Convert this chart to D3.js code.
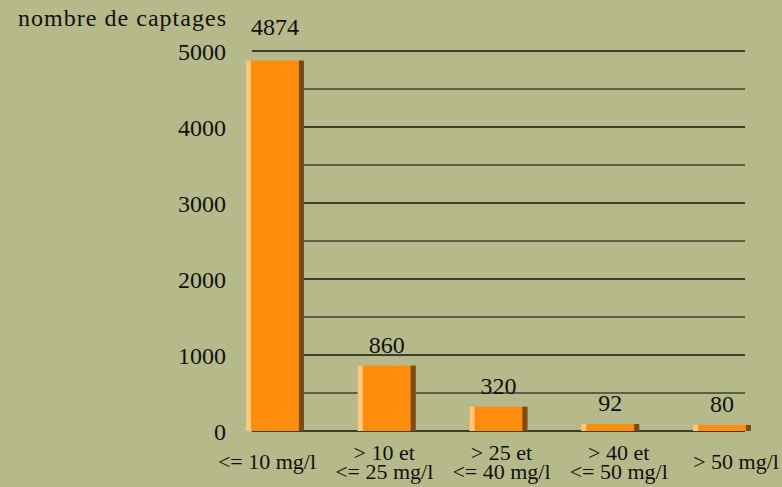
<!DOCTYPE html>
<html><head><meta charset="utf-8">
<script src="https://cdn.jsdelivr.net/npm/d3@7"></script>
<style>
html,body{margin:0;padding:0;background:#b6b98a;}
svg{display:block;}
</style></head>
<body>
<svg id="chart" width="782" height="487"></svg>
<script>
const categories = [["<= 10 mg/l"], ["> 10 et", "<= 25 mg/l"], ["> 25 et", "<= 40 mg/l"], ["> 40 et", "<= 50 mg/l"], ["> 50 mg/l"]];
const values = [4874, 860, 320, 92, 80];
const yTicks = [0, 1000, 2000, 3000, 4000, 5000];
const gridValues = [500, 1000, 1500, 2000, 2500, 3000, 3500, 4000, 4500, 5000];
const yTitle = "nombre de captages";

const FONT = "'Liberation Serif', 'DejaVu Serif', serif";
const svg = d3.select("#chart");
const keys = categories.map((c, i) => i);
const x = d3.scaleBand().domain(keys).range([246, 751]).paddingInner(0.481).paddingOuter(0);
const xLab = d3.scalePoint().domain(keys).range([267, 736]);
const y = d3.scaleLinear().domain([0, 5000]).range([431, 51]);

// gridlines
svg.append("g").selectAll("line").data(gridValues).join("line")
  .attr("x1", 252).attr("x2", 745)
  .attr("y1", d => y(d)).attr("y2", d => y(d))
  .attr("stroke", d => d % 1000 === 0 ? "#15150c" : "#5c5e48")
  .attr("stroke-width", d => d % 1000 === 0 ? 1.3 : 2);
svg.append("line").attr("x1", 252).attr("x2", 745).attr("y1", y(0)).attr("y2", y(0))
  .attr("stroke", "#15150c").attr("stroke-width", 1.3);

// y axis labels
const yAxis = d3.axisLeft(y).tickValues(yTicks).tickSize(0).tickPadding(0).tickFormat(d3.format("d"));
const ga = svg.append("g").attr("transform", "translate(226,0)").call(yAxis);
ga.attr("font-family", null).attr("font-size", null);
ga.select(".domain").remove();
ga.selectAll("text").style("font-family", FONT).style("font-size", "24px").attr("fill", "#111").attr("dy", "0.35em");

// title
svg.append("text").attr("x", 226).attr("y", 26).attr("text-anchor", "end")
  .style("font-family", FONT).style("font-size", "24px").attr("fill", "#111")
  .attr("textLength", 208).attr("lengthAdjust", "spacing").text(yTitle);

// bars
const bw = x.bandwidth();
const edge = bw * 0.088;
const bars = svg.append("g").selectAll("g").data(values).join("g");
bars.append("rect").attr("x", (d, i) => x(i)).attr("y", d => y(d))
  .attr("width", bw).attr("height", d => y(0) - y(d)).attr("fill", "#ff8c0c");
bars.append("rect").attr("x", (d, i) => x(i)).attr("y", d => y(d))
  .attr("width", edge).attr("height", d => y(0) - y(d)).attr("fill", "#ffc67e");
bars.append("rect").attr("x", (d, i) => x(i) + bw - edge).attr("y", d => y(d))
  .attr("width", edge).attr("height", d => y(0) - y(d)).attr("fill", "#7c4a14");

// value labels
svg.append("g").selectAll("text").data(values).join("text")
  .attr("x", (d, i) => x(i) + bw / 2)
  .attr("y", d => (y(d) - 13 < y(5000)) ? y(5000) - 16 : y(d) - 13)
  .attr("text-anchor", "middle").style("font-family", FONT).style("font-size", "24px").attr("fill", "#111")
  .text(d => d);

// category labels
const cl = svg.append("g").selectAll("text").data(categories).join("text")
  .attr("text-anchor", "middle").style("font-family", FONT).style("font-size", "22px").attr("fill", "#111")
  .attr("y", d => d.length === 1 ? 469 : 460);
cl.selectAll("tspan").data((d, i) => d.map(t => ({t, i}))).join("tspan")
  .attr("x", d => xLab(d.i))
  .attr("dy", (d, j) => j === 0 ? 0 : 19)
  .text(d => d.t);
</script>
</body></html>
